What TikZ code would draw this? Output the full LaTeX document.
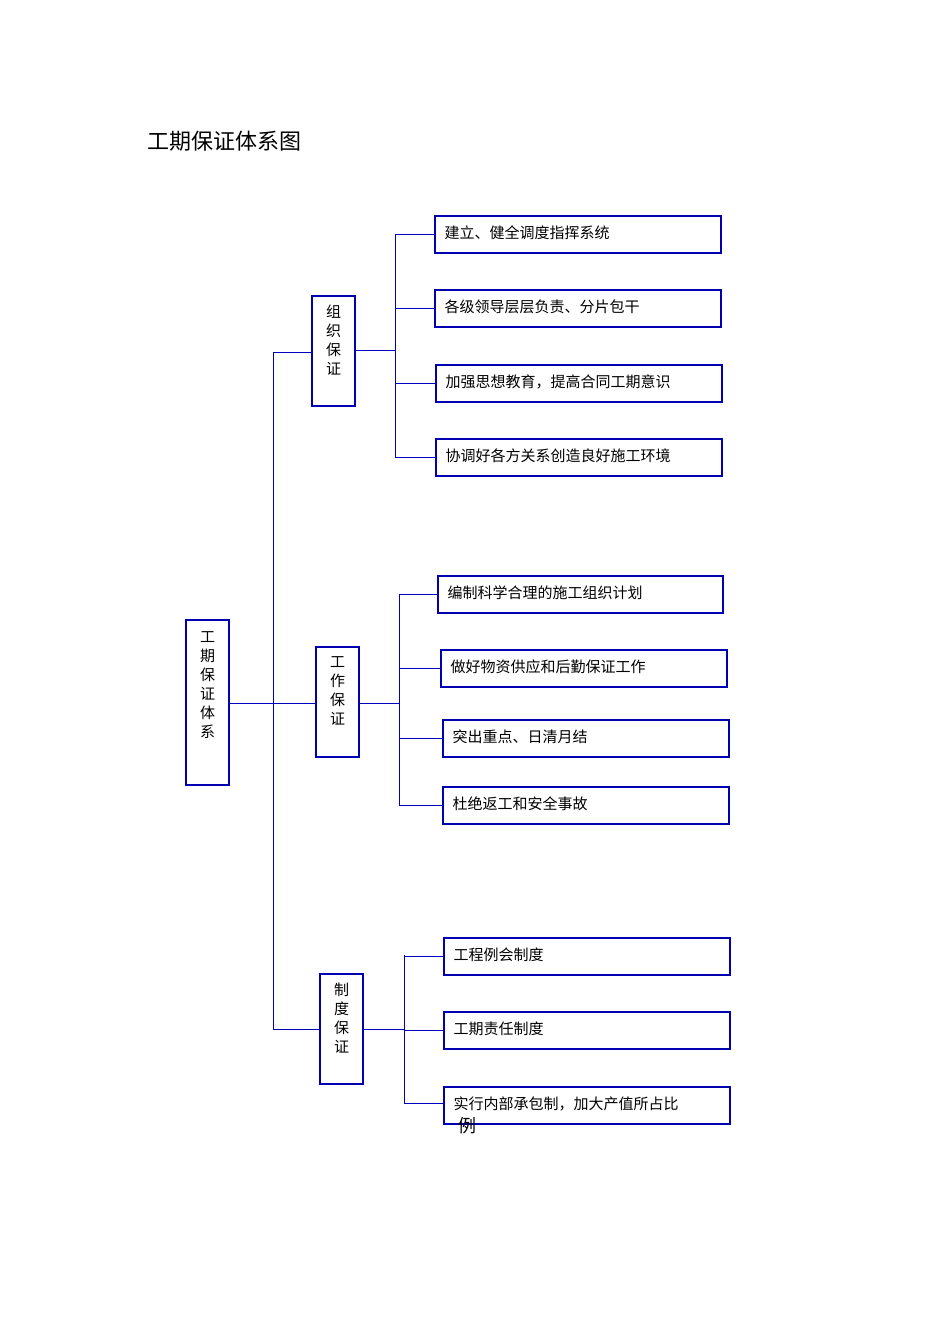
\documentclass[tikz,border=0pt]{standalone}
\usepackage{fontspec}
\newfontfamily\cjk{Noto Sans CJK SC}
\begin{document}
\begin{tikzpicture}[x=1pt,y=-1pt,
  bx/.style={draw=blue!70!black,line width=1.2pt},
  ln/.style={draw=blue!75!black,line width=1pt},
  tx/.style={font=\cjk\fontsize{15}{17}\selectfont,anchor=west}]
\useasboundingbox (0,0) rectangle (950,1344);
\node[font=\cjk\fontsize{22}{24}\selectfont,anchor=west] (title) at (144,141) {工期保证体系图};
% main
\draw[bx] (186,620) rectangle (229,785);
\node[font=\cjk\fontsize{15}{19}\selectfont,align=center] (m) at (207.5,685) {工\\期\\保\\证\\体\\系};
\coordinate (mr) at (229,703);
\coordinate (j) at (273,703);
\draw[ln] (mr) -- (316,703);
\draw[ln] (273,352) -- (273,1029);
% groups
\foreach \x/\y/\t/\n in {312/296/组\\织\\保\\证/g1, 316/647/工\\作\\保\\证/g2, 320/974/制\\度\\保\\证/g3}{
  \draw[bx] (\x,\y) rectangle (\x+43,\y+110);
  \node[font=\cjk\fontsize{15}{19}\selectfont,align=center] (\n) at (\x+21.5,\y+44) {\t};
}
\draw[ln] (273,352) -- (312,352);
\draw[ln] (273,1029) -- (320,1029);
\draw[ln] (355,350) -- (395,350);
\draw[ln] (359,703) -- (399,703);
\draw[ln] (363,1029) -- (404,1029);
\draw[ln] (395,234) -- (395,457);
\draw[ln] (399,595) -- (399,806);
\draw[ln] (404,955) -- (404,1103);
% items
\foreach \bx/\x/\y/\w/\t/\n in {
 395/435/216/286/建立、健全调度指挥系统/a1,
 395/435/290/286/各级领导层层负责、分片包干/a2,
 395/436/365/286/加强思想教育，提高合同工期意识/a3,
 395/436/439/286/协调好各方关系创造良好施工环境/a4,
 399/438/576/285/编制科学合理的施工组织计划/b1,
 399/441/650/286/做好物资供应和后勤保证工作/b2,
 399/443/720/286/突出重点、日清月结/b3,
 399/443/787/286/杜绝返工和安全事故/b4,
 404/444/938/286/工程例会制度/c1,
 404/444/1012/286/工期责任制度/c2}{
  \draw[bx] (\x,\y) rectangle (\x+\w,\y+37);
  \node[tx] (\n) at (\x+6,\y+17) {\t};
  \draw[ln] (\bx,\y+18) -- (\x,\y+18);
}
\draw[bx] (444,1087) rectangle (730,1124);
\node[tx] (c3) at (450,1104) {实行内部承包制，加大产值所占比};
\node[font=\cjk\fontsize{18}{20}\selectfont,anchor=west] (c3b) at (455,1126) {例};
\draw[ln] (404,1103) -- (444,1103);
\end{tikzpicture}
\end{document}
